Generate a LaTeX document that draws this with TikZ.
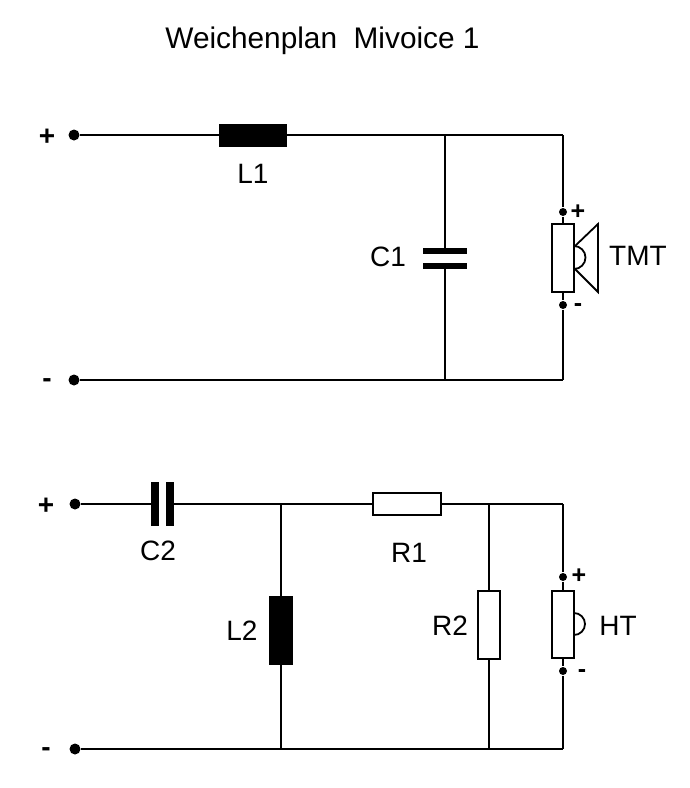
\documentclass[tikz,border=0pt]{standalone}
\usepackage{fontspec}
\setmainfont{Liberation Sans}
\tikzset{
  wire/.style={line width=1.8pt},
  term/.style={circle,fill=black,inner sep=0pt,minimum size=11pt},
  pin/.style={circle,fill=black,inner sep=0pt,minimum size=8pt},
  coilbox/.style={fill=black,inner sep=0pt,outer sep=0pt},
  resbox/.style={draw=black,fill=white,line width=1.8pt,inner sep=0pt,outer sep=0pt},
  lbl/.style={font=\fontsize{28}{28}\selectfont,inner sep=0pt},
  sign/.style={font=\fontsize{28}{28}\selectfont\bfseries,inner sep=0pt},
  smallsign/.style={font=\fontsize{25}{25}\selectfont\bfseries,inner sep=0pt}
}
\begin{document}
\begin{tikzpicture}[x=1pt,y=-1pt,wire]
\useasboundingbox (0,0) rectangle (689,788);
\node[lbl,font=\fontsize{29.8}{30}\selectfont] (title) at (322.5,41) {Weichenplan\ \ Mivoice 1};
% upper network
\node[term] (p1) at (74,135) {};
\node[term] (m1) at (74,380) {};
\node[sign] at (47,137) {+};
\node[sign] at (47,383) {-};
\node[coilbox,minimum width=68pt,minimum height=23pt] (L1) at (253,135) {};
\node[lbl] at (253,174) {L1};
\coordinate (a1) at (445,135);
\coordinate (a2) at (563,135);
\coordinate (b1) at (445,380);
\coordinate (b2) at (563,380);
\node[coilbox,minimum width=44pt,minimum height=6.5pt] (C1a) at (445,251) {};
\node[coilbox,minimum width=44pt,minimum height=6.5pt] (C1b) at (445,266) {};
\node[lbl] at (388,257) {C1};
\node[pin] (s1) at (563,212) {};
\node[pin] (s2) at (563,305) {};
\node[resbox,minimum width=22.5pt,minimum height=67.5pt] (TMT) at (563,258) {};
\node[smallsign] at (578,212) {+};
\node[smallsign] at (578,308) {-};
\node[lbl] at (638,256) {TMT};
\draw (p1) edge (L1);
\draw (L1) edge (a1);
\draw (a1) edge (a2);
\draw (a2) edge (s1);
\draw (s1) edge (TMT);
\draw (TMT) edge (s2);
\draw (s2) edge (b2);
\draw (m1) edge (b1);
\draw (b1) edge (b2);
\draw (a1) edge (C1a);
\draw (C1b) edge (b1);
\draw (574,246) arc (-90:90:11.5);
\draw[line join=miter] (575,246) -- (598,224) -- (598,292) -- (575,269);
% lower network
\node[term] (p2) at (75,504) {};
\node[term] (m2) at (75,749) {};
\node[sign] at (46,506) {+};
\node[sign] at (46,752) {-};
\node[coilbox,minimum width=8pt,minimum height=44pt] (C2a) at (155,504) {};
\node[coilbox,minimum width=8pt,minimum height=44pt] (C2b) at (170,504) {};
\node[lbl] at (158,551) {C2};
\coordinate (c1) at (281,504);
\coordinate (c2) at (489,504);
\coordinate (c3) at (563,504);
\coordinate (d1) at (281,749);
\coordinate (d2) at (489,749);
\coordinate (d3) at (563,749);
\node[resbox,minimum width=67.5pt,minimum height=22.5pt] (R1) at (407,504) {};
\node[lbl] at (409,553) {R1};
\node[coilbox,minimum width=24pt,minimum height=69pt] (L2) at (281,630.5) {};
\node[lbl] at (242,631) {L2};
\node[resbox,minimum width=22.5pt,minimum height=67.5pt] (R2) at (489,625) {};
\node[lbl] at (450,626) {R2};
\node[pin] (s3) at (563,577) {};
\node[pin] (s4) at (563,671) {};
\node[resbox,minimum width=22.5pt,minimum height=67.5pt] (HT) at (563,624.5) {};
\node[smallsign] at (579,576) {+};
\node[smallsign] at (582,674) {-};
\node[lbl] at (618,626) {HT};
\draw (p2) edge (C2a);
\draw (C2b) edge (c1);
\draw (c1) edge (R1);
\draw (R1) edge (c2);
\draw (c2) edge (c3);
\draw (c3) edge (s3);
\draw (s3) edge (HT);
\draw (HT) edge (s4);
\draw (s4) edge (d3);
\draw (m2) edge (d1);
\draw (d1) edge (d2);
\draw (d2) edge (d3);
\draw (c1) edge (L2);
\draw (L2) edge (d1);
\draw (c2) edge (R2);
\draw (R2) edge (d2);
\draw (574,613) arc (-90:90:11);
\end{tikzpicture}
\end{document}
